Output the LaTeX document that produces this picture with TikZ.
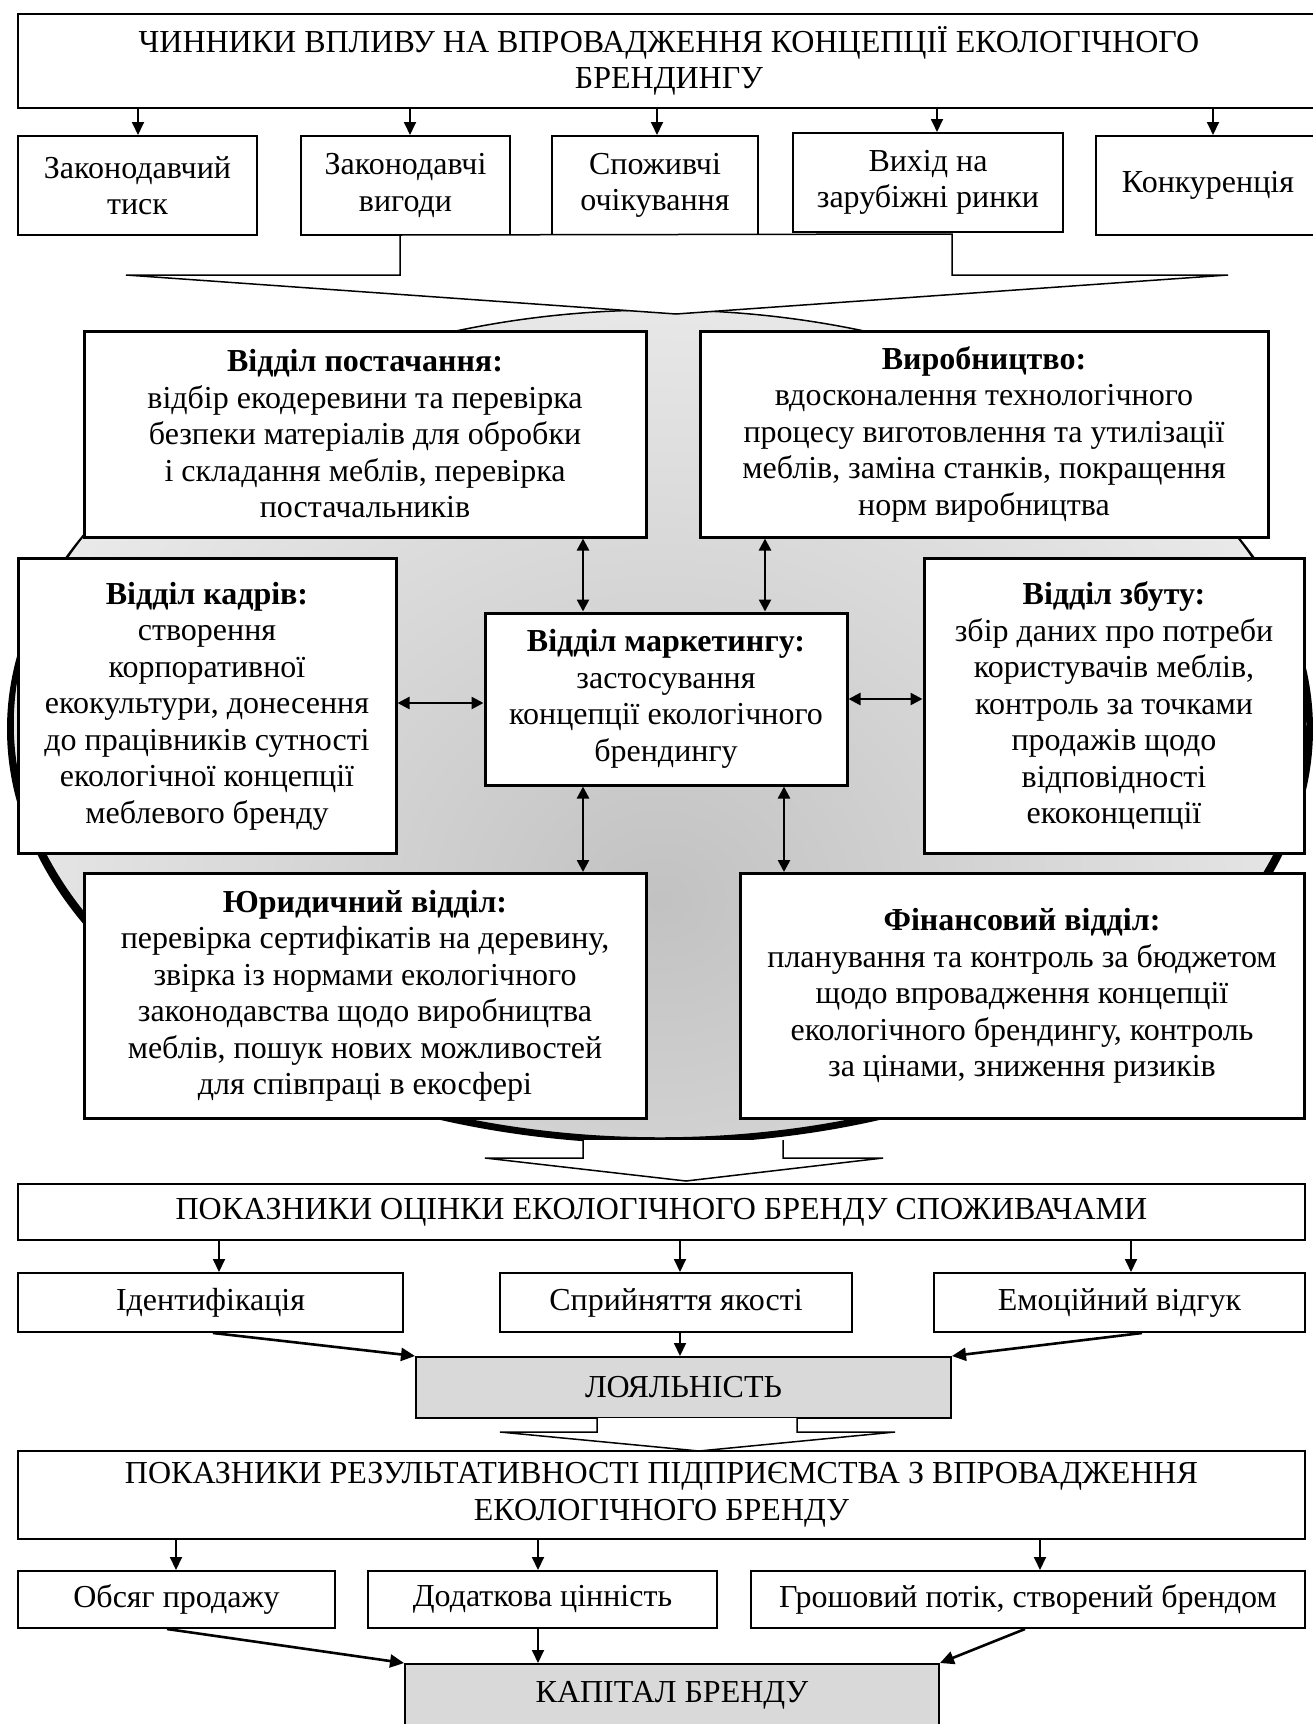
\documentclass[tikz,border=0pt]{standalone}
\usepackage{fontspec}
\setmainfont{Liberation Serif}
\usetikzlibrary{arrows.meta,calc}
\definecolor{boxgray}{HTML}{D9D9D9}
\tikzset{
  base/.style={draw, line width=2pt, fill=white, align=center, inner sep=0pt,
    font=\fontsize{32}{36.5}\selectfont},
  dept/.style={base, line width=3pt},
  graybox/.style={base, fill=boxgray},
  arr/.style={line width=1.8pt, -{Triangle[length=13pt,width=12pt]}},
  diagarr/.style={line width=2.6pt, -{Triangle[length=14pt,width=13pt]}},
  darr/.style={line width=2.5pt, {Triangle[length=12pt,width=12pt]}-{Triangle[length=12pt,width=12pt]}},
  bigarrow/.style={draw, line width=1.5pt, fill=white, line join=miter}
}
\begin{document}
\begin{tikzpicture}[x=1pt,y=-1pt]
\useasboundingbox (0,0) rectangle (1312,1724);

% ---- ellipse background ----
\fill[black] (660,729) ellipse [x radius=653pt, y radius=415pt];
\begin{scope}
  \clip (660,724) ellipse [x radius=647pt, y radius=414pt];
  \shade[inner color=gray!48, outer color=gray!12] (660,900) ellipse [x radius=820pt, y radius=720pt];
\end{scope}
\draw[line width=1.5pt] (660,724) ellipse [x radius=647pt, y radius=414pt];

% ---- top ----
\node[base, minimum width=1302pt, minimum height=94pt] (top) at (669,61)
  {ЧИННИКИ ВПЛИВУ НА ВПРОВАДЖЕННЯ КОНЦЕПЦІЇ ЕКОЛОГІЧНОГО\\БРЕНДИНГУ};
\node[base, minimum width=239pt, minimum height=99pt] (f1) at (137.5,185.5) {Законодавчий\\тиск};
\node[base, minimum width=209pt, minimum height=99pt] (f2) at (405.5,185.5) {Законодавчі\\вигоди};
\node[base, minimum width=206pt, minimum height=99pt] (f3) at (655,185.5) {Споживчі\\очікування};
\node[base, minimum width=270pt, minimum height=99pt] (f4) at (928,182.5) {Вихід на\\зарубіжні ринки};
\node[base, minimum width=224pt, minimum height=99pt] (f5) at (1208,185.5) {Конкуренція};

\draw[arr] (top.south -| 138,0) -- (f1.north -| 138,0);
\draw[arr] (top.south -| 410,0) -- (f2.north -| 410,0);
\draw[arr] (top.south -| 657,0) -- (f3.north -| 657,0);
\draw[arr] (top.south -| 937,0) -- (f4.north -| 937,0);
\draw[arr] (top.south -| 1213,0) -- (f5.north -| 1213,0);

\draw[bigarrow] (400,235) -- (400,275) -- (126,275) -- (676,314) -- (1228,275) -- (952,275) -- (952,234) -- cycle;

% ---- departments ----
\node[dept, minimum width=562pt, minimum height=206pt] (P) at (365,434)
  {\textbf{Відділ постачання:}\\відбір екодеревини та перевірка\\безпеки матеріалів для обробки\\і складання меблів, перевірка\\постачальників};
\node[dept, minimum width=568pt, minimum height=206pt] (V) at (984,434)
  {\textbf{Виробництво:}\\вдосконалення технологічного\\процесу виготовлення та утилізації\\меблів, заміна станків, покращення\\норм виробництва};
\node[dept, minimum width=378pt, minimum height=295pt] (K) at (207,706)
  {\textbf{Відділ кадрів:}\\створення\\корпоративної\\екокультури, донесення\\до працівників сутності\\екологічної концепції\\меблевого бренду};
\node[dept, minimum width=362pt, minimum height=172pt] (M) at (666,699)
  {\textbf{Відділ маркетингу:}\\застосування\\концепції екологічного\\брендингу};
\node[dept, minimum width=380pt, minimum height=295pt] (Z) at (1114,706)
  {\textbf{Відділ збуту:}\\збір даних про потреби\\користувачів меблів,\\контроль за точками\\продажів щодо\\відповідності\\екоконцепції};
\node[dept, minimum width=562pt, minimum height=245pt] (Yu) at (365,996)
  {\textbf{Юридичний відділ:}\\перевірка сертифікатів на деревину,\\звірка із нормами екологічного\\законодавства щодо виробництва\\меблів, пошук нових можливостей\\для співпраці в екосфері};
\node[dept, minimum width=564pt, minimum height=245pt] (F) at (1022,996)
  {\textbf{Фінансовий відділ:}\\планування та контроль за бюджетом\\щодо впровадження концепції\\екологічного брендингу, контроль\\за цінами, зниження ризиків};

\draw[darr] (P.south -| 583,0) -- (M.north -| 583,0);
\draw[darr] (V.south -| 765,0) -- (M.north -| 765,0);
\draw[darr] (K.east |- 0,703) -- (M.west |- 0,703);
\draw[darr] (M.east |- 0,699) -- (Z.west |- 0,699);
\draw[darr] (M.south -| 583,0) -- (Yu.north -| 583,0);
\draw[darr] (M.south -| 784,0) -- (F.north -| 784,0);

\draw[bigarrow] (583,1140) -- (583,1158) -- (485,1158) -- (686,1181) -- (883,1158) -- (783,1158) -- (783,1140);

% ---- consumer indicators ----
\node[base, minimum width=1287pt, minimum height=56pt] (O) at (661.5,1212)
  {ПОКАЗНИКИ ОЦІНКИ ЕКОЛОГІЧНОГО БРЕНДУ СПОЖИВАЧАМИ};
\node[base, minimum width=385pt, minimum height=59pt] (I1) at (210.5,1302.5) {Ідентифікація};
\node[base, minimum width=352pt, minimum height=59pt] (I2) at (676,1302.5) {Сприйняття якості};
\node[base, minimum width=371pt, minimum height=59pt] (I3) at (1119.5,1302.5) {Емоційний відгук};
\node[graybox, minimum width=535pt, minimum height=61pt] (L) at (683.5,1387.5) {ЛОЯЛЬНІСТЬ};

\draw[arr] (O.south -| 219,0) -- (I1.north -| 219,0);
\draw[arr] (O.south -| 680,0) -- (I2.north -| 680,0);
\draw[arr] (O.south -| 1131,0) -- (I3.north -| 1131,0);
\draw[diagarr] (I1.south -| 213,0) -- (L.north west);
\draw[arr] (I2.south -| 680,0) -- (L.north -| 680,0);
\draw[diagarr] (I3.south -| 1142,0) -- (L.north east);

\draw[bigarrow] (597,1418) -- (597,1432) -- (500,1432) -- (699,1451) -- (895,1432) -- (797,1432) -- (797,1418);

% ---- enterprise indicators ----
\node[base, minimum width=1287pt, minimum height=88pt] (R) at (661.5,1495)
  {ПОКАЗНИКИ РЕЗУЛЬТАТИВНОСТІ ПІДПРИЄМСТВА З ВПРОВАДЖЕННЯ\\ЕКОЛОГІЧНОГО БРЕНДУ};
\node[base, minimum width=317pt, minimum height=57pt] (B1) at (176.5,1599.5) {Обсяг продажу};
\node[base, minimum width=349pt, minimum height=57pt] (B2) at (542.5,1599.5) {Додаткова цінність};
\node[base, minimum width=554pt, minimum height=57pt] (B3) at (1028,1599.5) {Грошовий потік, створений брендом};
\node[graybox, minimum width=534pt, minimum height=63pt] (C) at (672,1695.5) {КАПІТАЛ БРЕНДУ};

\draw[arr] (R.south -| 176,0) -- (B1.north -| 176,0);
\draw[arr] (R.south -| 538,0) -- (B2.north -| 538,0);
\draw[arr] (R.south -| 1040,0) -- (B3.north -| 1040,0);
\draw[diagarr] (B1.south -| 167,0) -- (C.north west);
\draw[arr] (B2.south -| 538,0) -- (C.north -| 538,0);
\draw[diagarr] (B3.south -| 1025,0) -- (C.north east);
\end{tikzpicture}
\end{document}
